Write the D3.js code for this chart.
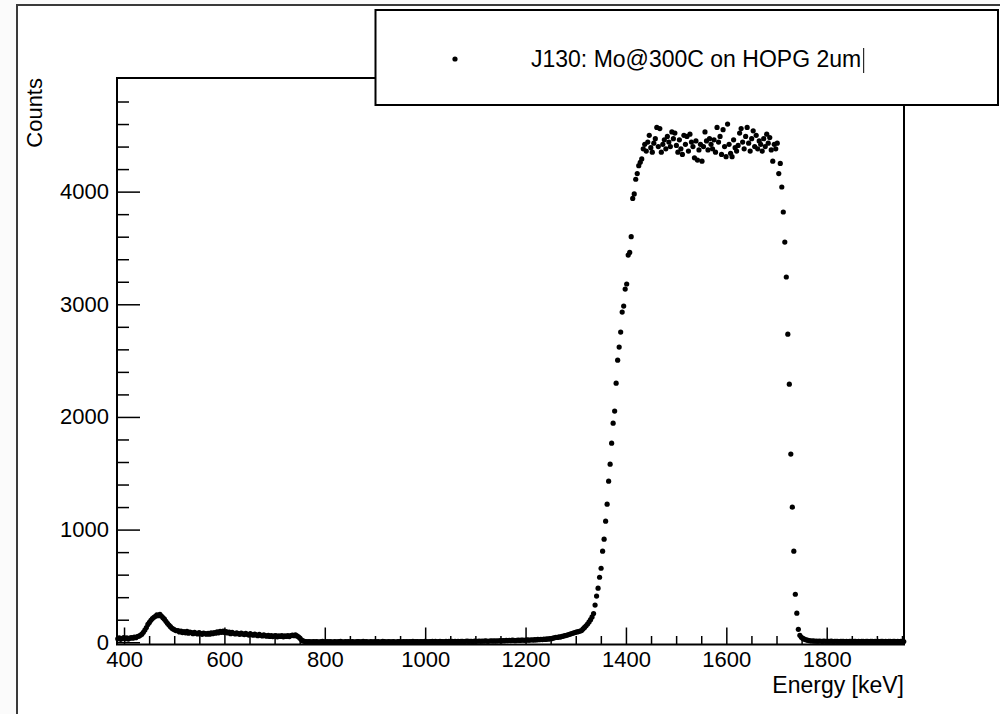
<!DOCTYPE html>
<html>
<head>
<meta charset="utf-8">
<script src="https://cdn.jsdelivr.net/npm/d3@7"></script>
<style>
  body { margin: 0; background: #fbfbfb; }
  svg { display: block; font-family: "Liberation Sans", Arial, Helvetica, sans-serif; }
</style>
</head>
<body>
<div id="chart"></div>
<script>
// spectrum, 3 keV channels; each block starts at its own first channel centre
const binWidth = 3;

const lowPeak = [ // from 387.5 keV
  30, 38, 26, 34, 42, 30, 38, 28, 36, 42,
  36, 46, 40, 50, 54, 62, 72, 88, 108, 130,
  158, 176, 195, 210, 222, 230, 244, 236, 248, 232,
  218, 205, 186, 168, 152, 138, 124, 116, 108, 102,
  104, 92, 100, 86, 94, 84, 96, 80, 90, 86,
  76, 88, 80, 74, 86, 78, 70, 82, 76, 72,
  80, 72, 84, 76, 86, 80, 92, 84, 96, 88,
  98, 86, 94, 82, 90, 76, 88, 80, 74, 84,
  76, 70, 82, 74, 68, 78, 70, 64, 76, 68,
  62, 72, 64, 58, 70, 62, 56, 66, 58, 54,
  62, 52, 58, 50, 56, 60, 48, 56, 52, 58,
  48, 56, 52, 58, 50, 60, 64, 58, 66, 56,
  48, 36, 22, 12, 8, 6, 4, 5, 3, 4
];
const valley = [ // from 777.5 keV
  5, 3, 6, 4, 2, 5, 7, 3, 4, 6,
  3, 5, 4, 2, 6, 4, 3, 5, 7, 4,
  2, 5, 3, 6, 4, 3, 5, 2, 4, 6,
  5, 3, 4, 7, 3, 5, 4, 2, 6, 3,
  4, 6, 3, 5, 2, 4, 7, 5, 3, 4,
  6, 4, 3, 5, 4, 2, 5, 6, 3, 4,
  5, 3, 6, 4, 5, 3, 7, 4, 5, 6,
  4, 6, 5, 3, 7, 5, 4, 6, 5, 8,
  5, 7, 4, 6, 8, 5, 6, 4, 7, 6,
  8, 5, 7, 6, 9, 6, 8, 5, 7, 9,
  6, 8, 10, 7, 9, 8, 6, 10, 8, 9,
  11, 8, 10, 9, 12, 10, 8, 11, 13, 10,
  12, 10, 13, 11, 14
];
const riseTail = [ // from 1152.5 keV
  12, 15, 13, 16, 14, 17, 15, 18, 16, 14,
  17, 19, 16, 18, 20, 17, 19, 21, 18, 20,
  22, 19, 23, 21, 25, 22, 26, 24, 28, 25,
  30, 27, 33, 31, 36, 40, 44, 42, 48, 46,
  52, 55, 58, 62, 66, 70, 75, 80, 84, 88,
  92, 95, 99, 104, 118, 132, 146, 162, 180, 200,
  225, 255
];
const edgeRise = [ // from 1338.5 keV
  330, 410, 480, 577, 657, 808, 915, 1075, 1226, 1430,
  1581, 1767, 1945, 2052, 2300, 2504, 2620, 2753, 2931, 2984,
  3135, 3180, 3437, 3460, 3600, 3940, 3980, 4110, 4160, 4230,
  4260
];
const plateau = [ // from 1431.5 keV
  4290, 4380, 4420, 4360, 4440, 4500, 4390, 4350, 4430, 4470,
  4570, 4400, 4560, 4350, 4420, 4460, 4380, 4490, 4440, 4400,
  4530, 4470, 4520, 4410, 4350, 4460, 4380, 4330, 4500, 4420,
  4490, 4360, 4510, 4440, 4400, 4300, 4450, 4280, 4370, 4420,
  4270, 4400, 4530, 4450, 4370, 4470, 4420, 4380, 4460, 4350,
  4570, 4440, 4490, 4330, 4550, 4400, 4310, 4600, 4420, 4340,
  4310, 4460, 4390, 4360, 4410, 4520, 4560, 4440, 4380, 4490,
  4570, 4430, 4360, 4470, 4540, 4400, 4500, 4380, 4450, 4420,
  4360, 4470, 4400, 4510, 4430, 4480, 4370, 4270, 4420, 4380,
  4430, 4160, 4250
];
const edgeFall = [ // from 1710.5 keV
  4041, 3819, 3552, 3242, 2735, 2291, 1670, 1199, 808, 426,
  258, 115
];
const highTail = [ // from 1746.5 keV
  62, 44, 34, 27, 22, 18, 15, 13,
  11, 12, 9, 10, 8, 11, 9, 7, 10, 8,
  9, 7, 8, 10, 6, 8, 9, 7, 6, 8,
  7, 9, 6, 8, 5, 7, 8, 6, 9, 7,
  6, 8, 5, 7, 9, 6, 8, 7, 5, 8,
  7, 6, 9, 5, 8, 6, 7, 9, 6, 8,
  5, 7, 8, 6, 9, 7, 5, 8, 6, 7, 9, 6
];

const segments = [
  { start: 387.5, counts: lowPeak },
  { start: 777.5, counts: valley },
  { start: 1152.5, counts: riseTail },
  { start: 1338.5, counts: edgeRise },
  { start: 1431.5, counts: plateau },
  { start: 1710.5, counts: edgeFall },
  { start: 1746.5, counts: highTail }
];

const xTicks = [400, 600, 800, 1000, 1200, 1400, 1600, 1800];
const yTicks = [0, 1000, 2000, 3000, 4000];
const legendLabel = "J130: Mo@300C on HOPG 2um";
const xTitle = "Energy [keV]";
const yTitle = "Counts";

const points = segments.flatMap(s => s.counts.map((c, i) => ({ e: s.start + i * binWidth, c })));

const W = 1000, H = 714;
const frame = { left: 117, right: 904, top: 78, bottom: 644.5 };

const svg = d3.select("#chart").append("svg")
  .attr("width", W)
  .attr("height", H);

// canvas pad
svg.append("rect")
  .attr("x", 17).attr("y", 5)
  .attr("width", W).attr("height", H)
  .attr("fill", "#fff")
  .attr("stroke", "#3a3a3a")
  .attr("stroke-width", 2);

const x = d3.scaleLinear().domain([386, 1954]).range([frame.left, frame.right]);
const y = d3.scaleLinear().domain([-20, 5006]).range([frame.bottom, frame.top + 0.3]);

const font = "'Liberation Sans', Arial, Helvetica, sans-serif";

// minor ticks
const xMinor = d3.range(400, 1951, 50).filter(v => v % 200 !== 0);
const yMinor = d3.range(200, 4801, 200).filter(v => v % 1000 !== 0);

svg.append("g")
  .attr("transform", `translate(0,${frame.bottom})`)
  .call(d3.axisBottom(x).tickValues(xMinor).tickSize(-8.5).tickSizeOuter(0).tickFormat(""))
  .call(g => g.select(".domain").remove())
  .call(g => g.selectAll("line").attr("stroke", "#000").attr("stroke-width", 1.5));

svg.append("g")
  .attr("transform", `translate(${frame.left},0)`)
  .call(d3.axisLeft(y).tickValues(yMinor).tickSize(-12).tickSizeOuter(0).tickFormat(""))
  .call(g => g.select(".domain").remove())
  .call(g => g.selectAll("line").attr("stroke", "#000").attr("stroke-width", 1.5));

// major ticks + labels
svg.append("g")
  .attr("transform", `translate(0,${frame.bottom})`)
  .call(d3.axisBottom(x).tickValues(xTicks).tickSize(-17).tickSizeOuter(0).tickPadding(7).tickFormat(d3.format("d")))
  .attr("font-size", 22)
  .attr("font-family", font)
  .call(g => g.select(".domain").remove())
  .call(g => g.selectAll("line").attr("stroke", "#000").attr("stroke-width", 1.5))
  .call(g => g.selectAll("text").attr("fill", "#000"));

svg.append("g")
  .attr("transform", `translate(${frame.left},0)`)
  .call(d3.axisLeft(y).tickValues(yTicks).tickSize(-23).tickSizeOuter(0).tickPadding(8).tickFormat(d3.format("d")))
  .attr("font-size", 22)
  .attr("font-family", font)
  .call(g => g.select(".domain").remove())
  .call(g => g.selectAll("line").attr("stroke", "#000").attr("stroke-width", 1.5))
  .call(g => g.selectAll("text").attr("fill", "#000"));

// frame
svg.append("rect")
  .attr("x", frame.left).attr("y", frame.top)
  .attr("width", frame.right - frame.left)
  .attr("height", frame.bottom - frame.top)
  .attr("fill", "none")
  .attr("stroke", "#000")
  .attr("stroke-width", 2);

// data markers
svg.append("g")
  .selectAll("circle")
  .data(points)
  .enter()
  .append("circle")
  .attr("cx", d => x(d.e))
  .attr("cy", d => y(d.c))
  .attr("r", 2.6)
  .attr("fill", "#000");

// axis titles
svg.append("text")
  .attr("x", frame.right)
  .attr("y", 693)
  .attr("text-anchor", "end")
  .attr("font-size", 23)
  .attr("font-family", font)
  .text(xTitle);

svg.append("text")
  .attr("transform", `translate(42,${frame.top}) rotate(-90)`)
  .attr("text-anchor", "end")
  .attr("font-size", 22)
  .attr("font-family", font)
  .text(yTitle);

// legend
const legend = svg.append("g");
legend.append("rect")
  .attr("x", 375.5).attr("y", 10)
  .attr("width", 622.5).attr("height", 95)
  .attr("fill", "#fff")
  .attr("stroke", "#000")
  .attr("stroke-width", 2);
legend.append("circle")
  .attr("cx", 455).attr("cy", 59)
  .attr("r", 2.6)
  .attr("fill", "#000");
const label = legend.append("text")
  .attr("x", 531).attr("y", 67)
  .attr("font-size", 23)
  .attr("font-family", font)
  .text(legendLabel);
const tw = label.node().getComputedTextLength();
legend.append("line")
  .attr("x1", 531 + tw + 2.5).attr("x2", 531 + tw + 2.5)
  .attr("y1", 48).attr("y2", 73)
  .attr("stroke", "#000")
  .attr("stroke-width", 1);
</script>
</body>
</html>
